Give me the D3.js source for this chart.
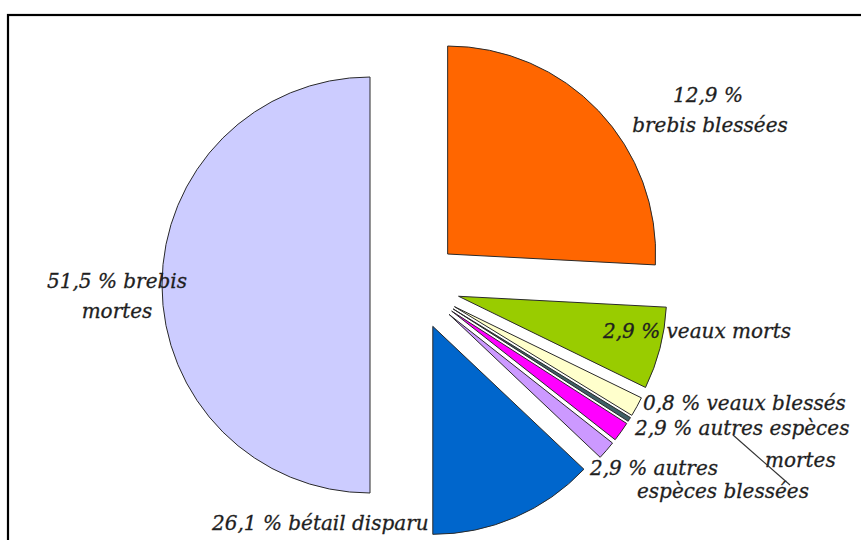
<!DOCTYPE html>
<html>
<head>
<meta charset="utf-8">
<style>
  body { margin: 0; background: #fff; }
  .lbl {
    font-family: "DejaVu Serif", serif;
    font-style: italic;
    font-size: 20px;
    fill: #1f1f1f;
    stroke: #1f1f1f;
    stroke-width: 0.3;
  }
  .slice { stroke: #2a2a2a; stroke-width: 1; }
  .leader { stroke: #333; stroke-width: 1.2; fill: none; }
</style>
</head>
<body>
<script src="https://d3js.org/d3.v7.min.js"></script>
<script>
// slices in drawing order, clockwise from 12 o'clock
var categories = ["brebis blessées", "veaux morts", "veaux blessés", "divers",
                  "autres espèces mortes", "autres espèces blessées", "bétail disparu", "brebis mortes"];
// angular size of each slice as drawn in the picture (degrees)
var sliceDeg = [93, 23, 5.5, 1.2, 5.5, 5.2, 46.6, 180];
var sliceColors = ["#ff6600", "#99cc00", "#ffffcc", "#3f6066", "#ff00ff", "#cc99ff", "#0066cc", "#ccccff"];
// label text, one entry per line
var labelLines = [
  ["12,9 %", "brebis blessées"],
  ["2,9 % veaux morts"],
  ["0,8 % veaux blessés"],
  [],
  ["2,9 % autres espèces", "mortes"],
  ["2,9 % autres", "espèces blessées"],
  ["26,1 % bétail disparu"],
  ["51,5 % brebis", "mortes"]
];

var W = 861, H = 540;
var cx = 415, cy = 285, R = 208, explode = 45;

var svg = d3.select("body").append("svg")
  .attr("width", W)
  .attr("height", H);

// frame (right and bottom edges fall outside the picture)
svg.append("rect")
  .attr("x", 8).attr("y", 15)
  .attr("width", 1000).attr("height", 1000)
  .attr("fill", "none")
  .attr("stroke", "#000")
  .attr("stroke-width", 2.2);

var pie = d3.pie()
  .sort(null)
  .value(function(d) { return d; });
var arcs = pie(sliceDeg);

var arc = d3.arc().innerRadius(0).outerRadius(R);

// where each label line sits
var linePos = [
  [{x: 708, y: 102, a: "middle"}, {x: 710, y: 132, a: "middle"}],
  [{x: 603, y: 338, a: "start"}],
  [{x: 643, y: 410, a: "start"}],
  [],
  [{x: 635, y: 435, a: "start"}, {x: 765, y: 467, a: "start"}],
  [{x: 590, y: 475, a: "start"}, {x: 637, y: 498, a: "start"}],
  [{x: 212, y: 530, a: "start"}],
  [{x: 117, y: 288, a: "middle"}, {x: 117, y: 318, a: "middle"}]
];

function drawLabel(i) {
  labelLines[i].forEach(function(t, j) {
    svg.append("text")
      .attr("class", "lbl")
      .attr("x", linePos[i][j].x)
      .attr("y", linePos[i][j].y)
      .attr("text-anchor", linePos[i][j].a)
      .text(t);
  });
}

// the "bétail disparu" label sits under the blue slice
drawLabel(6);

var g = svg.append("g").attr("transform", "translate(" + cx + "," + cy + ")");

g.selectAll("path.slice")
  .data(arcs)
  .enter()
  .append("path")
  .attr("class", "slice")
  .attr("d", arc)
  .attr("fill", function(d, i) { return sliceColors[i]; })
  .attr("stroke", function(d, i) { return i == 6 ? "#0a4a90" : "#2a2a2a"; })
  .attr("transform", function(d) {
    var m = (d.startAngle + d.endAngle) / 2;
    return "translate(" + (explode * Math.sin(m)) + "," + (-explode * Math.cos(m)) + ")";
  });

labelLines.forEach(function(l, i) { if (i != 6) drawLabel(i); });

// leader line for "autres espèces mortes"
svg.append("line")
  .attr("class", "leader")
  .attr("x1", 733).attr("y1", 435)
  .attr("x2", 790).attr("y2", 485);
</script>
</body>
</html>
